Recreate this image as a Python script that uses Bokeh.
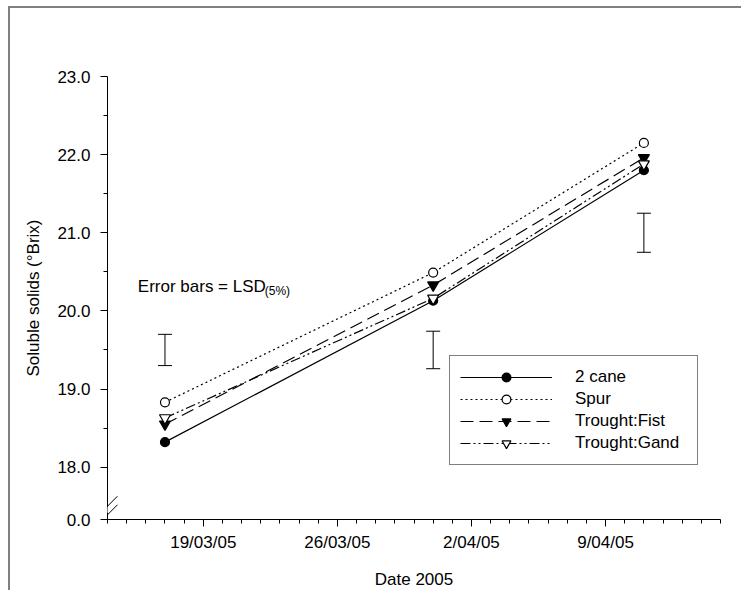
import pandas as pd
from bokeh.plotting import figure
from bokeh.models import (Range1d, FixedTicker, CustomJSTickFormatter, Whisker, TeeHead,
                          ColumnDataSource, Legend, LegendItem, Label, Arrow)
from bokeh.embed import file_html
from bokeh.resources import INLINE

# ---------------- data ----------------
dates = ["2005-03-17", "2005-03-31", "2005-04-11"]
cane2 = [18.32, 20.13, 21.80]
spur = [18.83, 20.49, 22.15]
trought_fist = [18.55, 20.33, 21.96]
trought_gand = [18.63, 20.16, 21.88]

lsd_lower = [19.30, 19.26, 20.75]
lsd_upper = [19.70, 19.74, 21.25]

major_tick_dates = ["2005-03-19", "2005-03-26", "2005-04-02", "2005-04-09"]
tick_labels = ["19/03/05", "26/03/05", "2/04/05", "9/04/05"]
x_start_date = "2005-03-14"
x_end_date = "2005-04-15"

y_ticks = [18.0, 19.0, 20.0, 21.0, 22.0, 23.0]
y_minor = [18.5, 19.5, 20.5, 21.5, 22.5]
y_bottom = 17.33   # position where the broken axis shows "0.0"
y_top = 23.0

FONT = "Liberation Sans"


def ms(d):
    return int(pd.Timestamp(d).value // 10**6)


x = [pd.Timestamp(d) for d in dates]
day = 86400000
x0 = ms(x_start_date)
x1 = ms(x_end_date)

p = figure(width=733, height=584, output_backend="svg", toolbar_location=None,
           x_axis_type="datetime",
           x_range=Range1d(x0, x1), y_range=Range1d(y_bottom, y_top),
           min_border_left=97, min_border_right=23, min_border_top=68, min_border_bottom=73,
           styles={"border-top": "2px solid #808080", "border-left": "2px solid #808080"})
p.margin = (6, 0, 0, 8)
p.outline_line_color = None
p.xgrid.visible = False
p.ygrid.visible = False
p.background_fill_color = "white"
p.border_fill_color = "white"

# ---- axes ----
major_ms = [ms(d) for d in major_tick_dates]
minor_ms = list(range(x0, x1 + 1, day))
p.xaxis.ticker = FixedTicker(ticks=major_ms, minor_ticks=minor_ms)
p.xaxis.major_label_overrides = {m: l for m, l in zip(major_ms, tick_labels)}
p.xaxis.axis_label = "Date 2005"

p.yaxis.ticker = FixedTicker(ticks=[y_bottom] + y_ticks, minor_ticks=y_minor)
p.yaxis.formatter = CustomJSTickFormatter(code="return tick < 17.9 ? '0.0' : tick.toFixed(1);")
p.yaxis.axis_label = "Soluble solids (°Brix)"

for ax in (p.xaxis[0], p.yaxis[0]):
    ax.axis_line_color = "black"
    ax.axis_line_width = 1
    ax.major_tick_line_color = "black"
    ax.minor_tick_line_color = "black"
    ax.major_tick_in = 0
    ax.major_tick_out = 7
    ax.minor_tick_in = 0
    ax.minor_tick_out = 4
    ax.major_label_text_font = FONT
    ax.major_label_text_font_size = "17px"
    ax.major_label_text_color = "black"
    ax.axis_label_text_font = FONT
    ax.axis_label_text_font_size = "17px"
    ax.axis_label_text_font_style = "normal"
    ax.axis_label_text_color = "black"
p.xaxis.major_label_standoff = 6
p.xaxis.axis_label_standoff = 15
p.yaxis.major_label_standoff = 10
p.yaxis.axis_label_standoff = 11

# ---- series ----
series = [
    ("2 cane", cane2, "solid", "circle", "black"),
    ("Spur", spur, "2 3", "circle", "white"),
    ("Trought:Fist", trought_fist, "13 6", "inverted_triangle", "black"),
    ("Trought:Gand", trought_gand, "10 3 2 3 2 3", "inverted_triangle", "white"),
]
items = []
for name, ys, dash, marker, fill in series:
    src = ColumnDataSource(dict(x=x, y=ys))
    lr = p.line("x", "y", source=src, line_color="black", line_width=1.2, line_dash=dash)
    sz = 9 if marker == "circle" else 11
    sr = p.scatter("x", "y", source=src, marker=marker, size=sz, line_color="black",
                   line_width=1.2, fill_color=fill)
    items.append(LegendItem(label=name, renderers=[lr, sr]))

# ---- LSD error bars ----
esrc = ColumnDataSource(dict(x=x, lower=lsd_lower, upper=lsd_upper))
p.add_layout(Whisker(source=esrc, base="x", lower="lower", upper="upper", dimension="height",
                     line_color="black", line_width=1,
                     upper_head=TeeHead(size=14, line_color="black", line_width=1),
                     lower_head=TeeHead(size=14, line_color="black", line_width=1)))

p.add_layout(Label(x=ms("2005-03-15") + 14 * 3600000, y=20.31, text="Error bars = LSD",
                   text_font=FONT, text_font_size="17px", text_color="black",
                   text_baseline="alphabetic"))
p.add_layout(Label(x=ms("2005-03-22") + 5 * 3600000, y=20.25, text="(5%)",
                   text_font=FONT, text_font_size="12px", text_color="black",
                   text_baseline="alphabetic"))

# ---- legend ----
legend = Legend(items=items, location=(342, 54), orientation="vertical",
                border_line_color="black", border_line_width=1, background_fill_color="white",
                background_fill_alpha=1,
                label_text_font=FONT, label_text_font_size="17px", label_text_color="black",
                glyph_width=92, glyph_height=22, label_height=22, label_width=112, spacing=0,
                padding=10, margin=0, label_standoff=23)
p.add_layout(legend, "center")

# ---- axis break marks ----
yb1, yb2 = 17.50, 17.39
dxb = int(0.52 * day)
dyb = 0.128
p.add_layout(Arrow(end=None, x_start=x0, y_start=17.415, x_end=x0, y_end=17.49,
                   line_color="white", line_width=4, level="overlay"))
for yb in (yb1, yb2):
    p.add_layout(Arrow(end=None, x_start=x0 - dxb, y_start=yb - dyb, x_end=x0 + dxb, y_end=yb + dyb,
                       line_color="black", line_width=1, level="overlay"))

open("out.html", "w").write(file_html(p, INLINE))
